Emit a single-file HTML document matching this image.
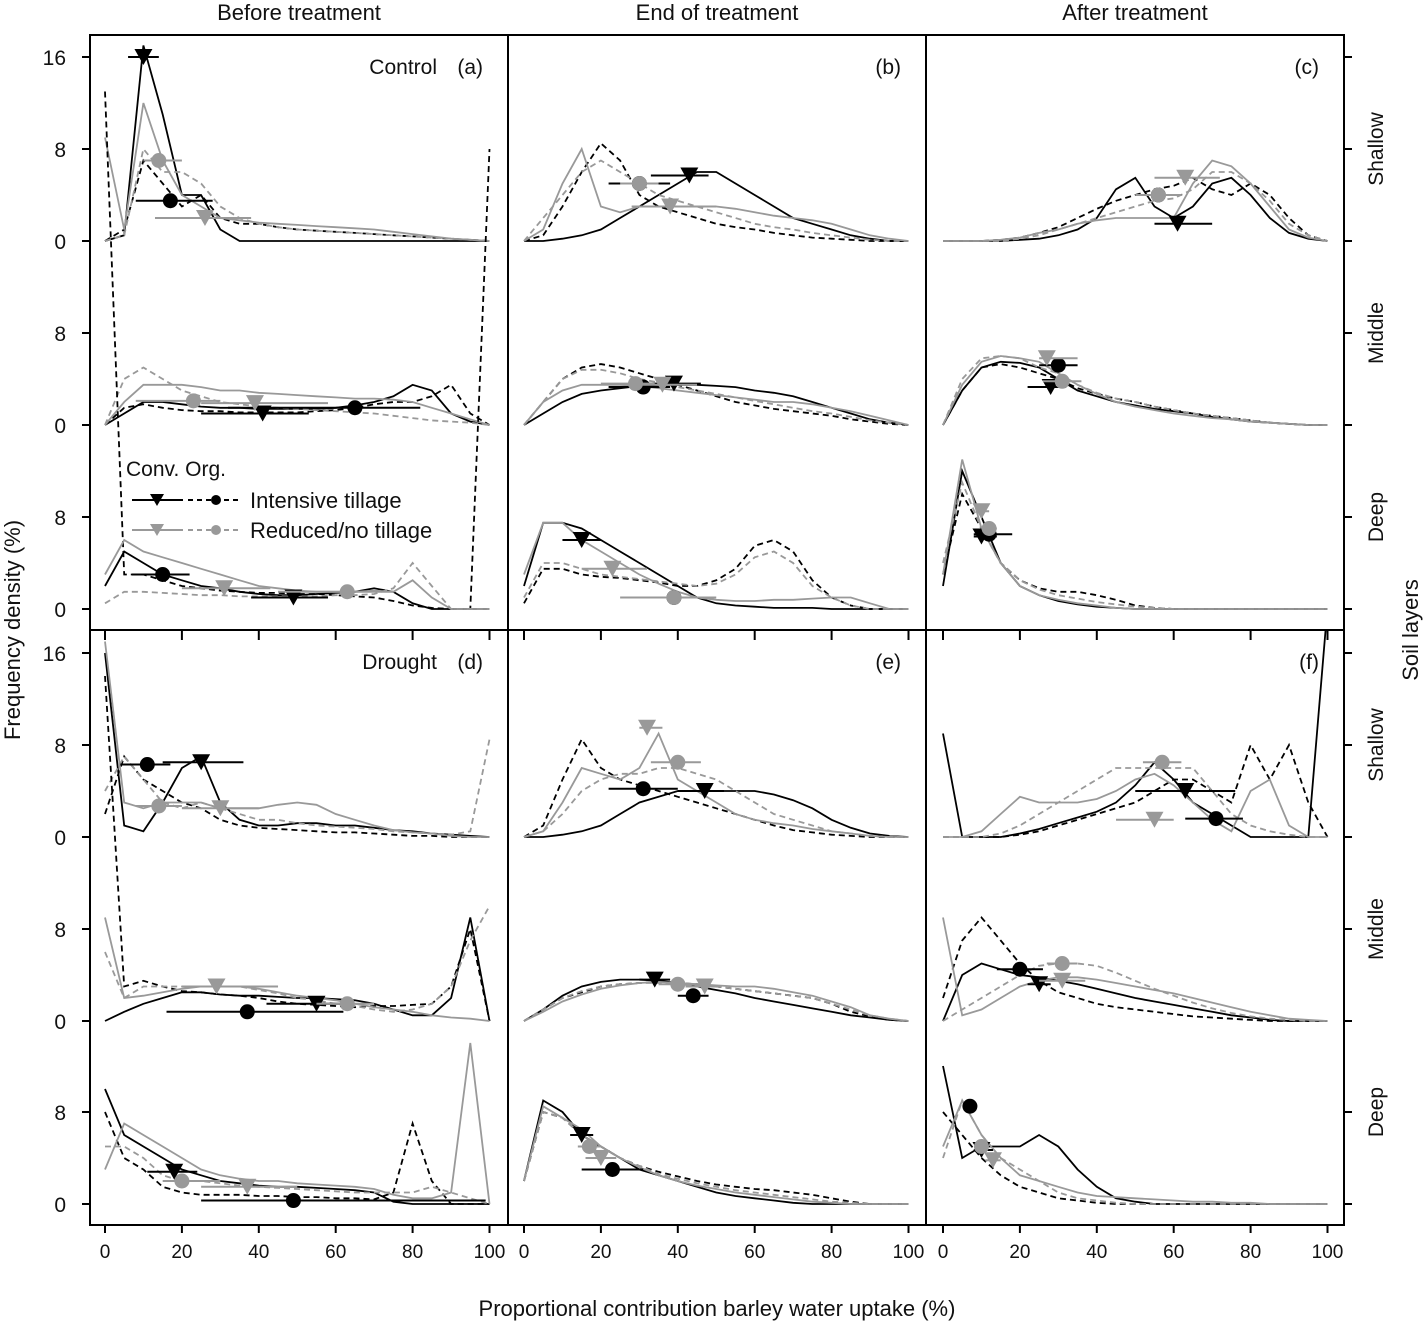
<!DOCTYPE html>
<html><head><meta charset="utf-8"><style>
body{margin:0;background:#fff;}
svg{display:block;font-family:"Liberation Sans",Arial,sans-serif;}
</style></head><body>
<svg id="chart" width="1427" height="1325" viewBox="0 0 1427 1325" xmlns="http://www.w3.org/2000/svg">
<g id="content"></g>
</svg>
<script>
// x grid (%): 0,5,...,100
const xGrid = [0,5,10,15,20,25,30,35,40,45,50,55,60,65,70,75,80,85,90,95,100];
const columnTitles = ["Before treatment","End of treatment","After treatment"];
const panelLabels = ["(a)","(b)","(c)","(d)","(e)","(f)"];
const layerNames = ["Shallow","Middle","Deep"];
const xTickLabels = [0,20,40,60,80,100];
const yTickLabels = [0,8,16];
// order: a-sh,a-mid,a-deep,b-sh,...,f-deep
const blackSolid = [
[0,0.5,17,11,4,4,1,0,0,0,0,0,0,0,0,0,0,0,0,0,0],
[0,1,2,2,1.8,1.6,1.5,1.5,1.4,1.4,1.4,1.4,1.5,1.7,2,2.5,3.5,3,1,0.3,0],
[2,5,4,3,2.5,2,1.8,1.5,1.3,1.2,1.2,1.3,1.4,1.5,1.8,1.5,0.5,0,0,0,0],
[0,0,0.2,0.5,1,2,3,4,5,6,6,5,4,3,2,1.5,1,0.5,0.2,0,0],
[0,1,2,2.7,3,3.2,3.4,3.5,3.5,3.5,3.4,3.3,3,2.8,2.5,2,1.5,1,0.5,0.2,0],
[2,7.5,7.5,7,6,5,4,3,2,1,0.5,0.3,0.2,0.1,0.1,0.1,0,0,0,0,0],
[0,0,0,0,0.1,0.2,0.5,1,2,4.5,5.5,3,2,3,5,5.5,4,2,0.7,0.2,0],
[0,3,5,5.5,5.4,5,4,3,2.5,2,1.7,1.4,1.2,1,0.7,0.5,0.3,0.2,0.1,0,0],
[2,12,8,4,2,1.2,0.7,0.4,0.2,0.1,0,0,0,0,0,0,0,0,0,0,0],
[16,1,0.5,3,6,7,3,1.5,1,1,1.2,1.2,1,1,0.8,0.6,0.5,0.3,0.2,0.1,0],
[0,0.8,1.5,2,2.5,2.5,2.3,2.2,2.2,2.1,2,2,1.9,1.8,1.5,1,0.5,0.5,2,9,0],
[10,6,5,4,3,2.5,2,1.8,1.6,1.5,1.5,1.4,1.3,1.2,1,0.2,0,0,0,0,0],
[0,0,0.2,0.5,1,2,3,3.5,4,4,4,4,4,3.7,3.2,2.5,1.5,0.8,0.3,0.1,0],
[0,1,2.2,3,3.4,3.6,3.6,3.5,3.3,3,2.7,2.4,2,1.7,1.4,1.1,0.8,0.5,0.3,0.1,0],
[2,9,8,6,5,4,3,2.5,2,1.5,1,0.7,0.5,0.3,0.1,0,0,0,0,0,0],
[9,0,0,0,0.3,0.7,1.2,1.7,2.2,3,4.5,6.5,5,3,2,1,0,0,0,0,20],
[0,4,5,4.5,4,3.8,3.5,3.2,2.8,2.4,2,1.7,1.4,1.1,0.8,0.5,0.3,0.1,0,0,0],
[12,4,5,5,5,6,5,3,1.5,0.5,0.2,0,0,0,0,0,0,0,0,0,0]];
const blackDashed = [
[0,1,7,5,3,4,2,1.5,1.5,1.2,1,0.9,0.8,0.7,0.6,0.5,0.4,0.3,0.2,0.1,0],
[0,1.5,1.8,1.5,1.3,1.2,1.2,1.1,1.1,1.1,1.1,1.2,1.3,1.5,1.8,2,2,2.5,3.5,1,0],
[45,3,3,2.5,2,1.8,1.6,1.5,1.4,1.4,1.3,1.3,1.2,1.1,1,0.7,0.3,0.1,0,0,40],
[0,0.5,3,6,8.5,7,4,3,2.5,2,1.5,1.2,1,0.7,0.5,0.3,0.2,0.1,0,0,0],
[0,2,4,5,5.3,5,4.5,4,3.5,3,2.5,2,1.7,1.4,1.2,1,0.8,0.5,0.3,0.1,0],
[0.5,3.5,3.5,3,2.8,2.7,2.5,2.3,2,2,2.5,3.5,5.5,6,5,2.5,1,0.3,0,0,0],
[0,0,0,0.1,0.3,0.7,1.2,2,2.8,3.5,4,4.5,4.8,5.5,4.5,4,5,4,2,0.5,0],
[0,3,5,5.3,5,4.5,4,3.2,2.7,2.3,2,1.6,1.3,1,0.8,0.6,0.4,0.2,0.1,0,0],
[3,10,7,4,2.5,1.8,1.5,1.5,1.2,0.8,0.3,0.1,0,0,0,0,0,0,0,0,0],
[2,7,5,4,3,2.5,1.5,1,0.8,0.7,0.6,0.5,0.4,0.4,0.3,0.2,0.1,0.1,0,0,0],
[30,3,3.5,3,2.6,2.5,2.3,2.2,2,1.7,1.5,1.4,1.3,1.2,1.3,1.3,1.4,1.5,3,8,0],
[8,4,3,1.5,1,0.8,0.8,0.8,0.7,0.7,0.6,0.6,0.5,0.5,0.4,1,7,2,0,0,0],
[0,1,5,8.5,6,5,4.5,4,3.5,3,2.5,2,1.5,1,0.6,0.4,0.2,0.1,0,0,0],
[0,1,2,2.5,3,3.2,3.3,3.4,3.3,3.2,3,2.8,2.6,2.4,2.2,2,1.5,0.8,0.4,0.1,0],
[2,8,7.5,6,5,4,3.3,2.8,2.4,2,1.7,1.5,1.3,1.2,1,0.8,0.5,0.2,0,0,0],
[0,0,0,0,0.2,0.5,1,1.5,2,2.5,3,4,5,5,4,3,8,5,8,3,0],
[2,7,9,7,5,3.5,2.5,2,1.5,1.2,1,0.8,0.6,0.4,0.3,0.2,0.1,0,0,0,0],
[8,6,4,2.5,1.5,1,0.5,0.3,0.1,0,0,0,0,0,0,0,0,0,0,0,0]];
const graySolid = [
[9,1,12,7,4,3,2,1.8,1.6,1.5,1.4,1.3,1.2,1.1,1,0.8,0.6,0.4,0.2,0.1,0],
[0,2,3.5,3.5,3.5,3.3,3,3,2.8,2.7,2.6,2.5,2.4,2.3,2.3,2.2,2,1.5,1,0.5,0],
[3,6,5,4.5,4,3.5,3,2.5,2,1.8,1.6,1.5,1.5,1.5,1.6,1.5,2.5,1,0,0,0],
[0,1,5,8,3,2.5,3,3,3,3,3,2.8,2.5,2.2,2,1.8,1.5,1,0.5,0.2,0],
[0,2,3,3.5,3.5,3.5,3.4,3.2,3,2.8,2.6,2.4,2.2,2,2,1.8,1.5,1.2,0.8,0.4,0],
[3,7.5,7.5,6,5,4,3,2.2,1.5,1,0.8,0.7,0.7,0.8,0.8,0.9,1,1,0.5,0,0],
[0,0,0,0.1,0.3,0.7,1,1.5,1.8,2,2,2,2,5,7,6.5,5,3,1,0.3,0],
[0,3.5,5.5,6,5.8,5.5,4.5,3.5,2.7,2,1.6,1.3,1,0.8,0.6,0.5,0.3,0.2,0.1,0,0],
[3,13,7,4,2,1.2,0.8,0.5,0.3,0.1,0,0,0,0,0,0,0,0,0,0,0],
[17,3,2.5,3,3,3,2.5,2.5,2.5,2.8,3,2.8,2,1.5,1,0.6,0.4,0.3,0.1,0,0],
[9,2,2.2,2.5,2.8,3,3,3,2.8,2.5,2.2,2,1.8,1.5,1.2,1,0.8,0.5,0.3,0.2,0],
[3,7,6,5,4,3,2.5,2.2,2,2,1.8,1.7,1.6,1.5,1.3,0.8,0.5,0.5,1,14,0],
[0,0.5,3,6,5.5,5,6,9,5,4,3,2,1.5,1.2,1,0.7,0.5,0.3,0.1,0,0],
[0,0.8,1.7,2.3,2.8,3.1,3.3,3.4,3.3,3.2,3.1,3,3,2.8,2.5,2.2,1.7,1.2,0.5,0.2,0],
[2,8.5,7.5,6.5,5,4,3.2,2.5,2,1.6,1.3,1,0.8,0.6,0.4,0.2,0.1,0,0,0,0],
[0,0,0.5,2,3.5,3,3,3,3.3,4,5,5.5,4.5,3,1.5,0.5,4,5,1,0,0],
[9,0.5,1,2,3,3.5,3.8,3.8,3.6,3.3,3,2.7,2.4,2,1.6,1.2,0.8,0.5,0.2,0.1,0],
[5,9,6,4,2.5,2,1.5,1,0.7,0.6,0.5,0.4,0.3,0.2,0.2,0.1,0.1,0,0,0,0]];
const grayDashed = [
[0,0.5,8,6,6,5,3,2,1.5,1.2,1,0.9,0.8,0.7,0.6,0.5,0.4,0.3,0.2,0.1,0],
[0,4,5,4,3,2.5,2,1.8,1.6,1.5,1.4,1.3,1.2,1.1,1,0.8,0.6,0.4,0.3,0.2,0],
[0.5,1.5,1.5,1.4,1.3,1.2,1.2,1.1,1.1,1.1,1.1,1.1,1.2,1.2,1.3,1.8,4,2,0,0,0],
[0,2,4,6,7,6,5,4,3.5,3,2.5,2,1.5,1.2,1,0.7,0.5,0.3,0.1,0,0],
[0,2,4,4.8,4.8,4.5,4,3.7,3.3,3,2.7,2.4,2.1,1.8,1.5,1.2,1,0.7,0.4,0.2,0],
[1,4,4,3.5,3,2.8,2.6,2.4,2.2,2,2.2,3,4.5,5,4,2,1,0.3,0,0,0],
[0,0,0,0,0.2,0.5,1,1.5,2,2.5,3,3.5,3.7,4.5,6,6,5,3.5,1.5,0.5,0],
[0,4,5.8,6,5.8,5,4.5,3.5,2.8,2.3,2,1.6,1.3,1,0.8,0.6,0.4,0.2,0.1,0,0],
[4,11,7,4,2.5,1.7,1.2,0.9,0.6,0.4,0.2,0.1,0,0,0,0,0,0,0,0,0],
[4,7,5,3,2.5,3,2.5,2,1.5,1.5,1.2,1,0.9,0.8,0.7,0.5,0.4,0.3,0.2,0.5,8.5],
[6,2,3,3,3,3,3,3,2.7,2.4,2,1.8,1.5,1.3,1,0.8,1,1.5,3,7,10],
[5,5,4,2.5,2,2,1.8,1.6,1.5,1.4,1.3,1.2,1.1,1,1,1,1,1.5,1,0.5,0],
[0,0.5,2,4,5,5.5,5.5,6,6,5.5,5,4,3,2,1.5,1,0.5,0.3,0.1,0,0],
[0,1,2,2.6,3,3.2,3.3,3.3,3.2,3.1,3,2.8,2.6,2.4,2.2,2,1.5,1,0.5,0.2,0],
[2,8,7.5,6,5,4,3.3,2.6,2.2,1.8,1.5,1.2,1,0.8,0.6,0.4,0.2,0.1,0,0,0],
[0,0,0,0.3,1,2,3,4,5,6,6,6,6,6,4,2,1,0.5,0.2,0,0],
[0,1,2,3,4,4.8,5,5,4.8,4.2,3.5,2.8,2.2,1.6,1.1,0.7,0.4,0.2,0.1,0,0],
[4,9,6,4,3,2,1,0.5,0.3,0.1,0,0,0,0,0,0,0,0,0,0,0]];
// markers [mean, y, lo, hi]: black triangle, black circle, gray triangle, gray circle
const markBlackTri = [[10,16,6,14],[41,1,25,53],[49,1,38,58],[43,5.7,33,48],[39,3.6,32,46],[15,6,10,20],[61,1.5,55,70],[28,3.3,22,32],[10,6.3,8,14],[25,6.5,15,36],[55,1.5,42,63],[18,2.8,11,24],[47,4,40,52],[34,3.6,30,38],[15,6,12,18],[63,4,50,76],[25,3.2,22,28],[10,4.7,8,13]];
const markBlackCirc = [[17,3.5,8,28],[65,1.5,32,82],[15,3,7,22],[30,5,22,38],[31,3.3,22,38],[39,1,30,48],[56,4,50,62],[30,5.2,25,35],[12,6.5,8,18],[11,6.3,4,17],[37,0.8,16,62],[49,0.3,25,99],[31,4.2,22,40],[44,2.2,40,48],[23,3,15,31],[71,1.6,63,78],[20,4.5,14,26],[7,8.5,6,8]];
const markGrayTri = [[26,2,13,38],[39,1.9,25,58],[31,1.8,20,43],[38,3,28,50],[36,3.5,28,45],[23,3.5,15,32],[63,5.5,55,72],[27,5.8,25,35],[10,8.5,9,12],[30,2.5,20,40],[29,3,20,45],[37,1.5,25,50],[32,9.5,30,36],[47,3,42,50],[20,4,16,24],[55,1.5,45,60],[31,3.5,25,37],[13,3.8,11,15]];
const markGrayCirc = [[14,7,10,20],[23,2.1,8,30],[63,1.5,45,75],[30,5,25,35],[29,3.6,20,34],[39,1,25,50],[56,4,50,62],[31,3.8,26,36],[12,7,10,14],[14,2.7,8,20],[63,1.5,55,70],[20,2,15,30],[40,6.5,33,46],[40,3.2,35,45],[17,5,14,20],[57,6.5,52,62],[31,5,27,35],[10,5,9,11]];

const NS="http://www.w3.org/2000/svg";
const root=document.getElementById('content');
const colLeft=[90,508,926], colRight=[508,926,1344];
const colX0=[105,524,943], xSpan=384.5;
const rowTop=[35,630], rowBot=[630,1225];
const baseY=[[241,425,609],[837,1021,1204]];
const UNIT=11.5;
function mk(tag,attrs,parent){const e=document.createElementNS(NS,tag);for(const k in attrs)e.setAttribute(k,attrs[k]);(parent||root).appendChild(e);return e;}
function xs(c,v){return colX0[c]+v/100*xSpan;}
function ys(r,l,v){return baseY[r][l]-v*UNIT;}
function txt(x,y,s,size,anchor,rot,name){const t=mk('text',{x:x,y:y,'font-size':size,'text-anchor':anchor||'middle',fill:'#111'});if(rot)t.setAttribute('transform','rotate(-90 '+x+' '+y+')');t.textContent=s;return t;}

const defs=mk('defs',{});
for(let r=0;r<2;r++)for(let c=0;c<3;c++){const cp=mk('clipPath',{id:'cp'+r+c},defs);mk('rect',{x:colLeft[c],y:rowTop[r],width:colRight[c]-colLeft[c],height:rowBot[r]-rowTop[r]},cp);}

const styles=[{d:blackSolid,col:'#000',dash:null,n:'conv-intensive-line'},{d:blackDashed,col:'#000',dash:'6,4',n:'org-intensive-line'},{d:graySolid,col:'#999',dash:null,n:'conv-reduced-line'},{d:grayDashed,col:'#999',dash:'6,4',n:'org-reduced-line'}];
const marks=[{d:markBlackTri,col:'#000',tri:true,n:'conv-intensive-mean'},{d:markBlackCirc,col:'#000',tri:false,n:'org-intensive-mean'},{d:markGrayTri,col:'#999',tri:true,n:'conv-reduced-mean'},{d:markGrayCirc,col:'#999',tri:false,n:'org-reduced-mean'}];

for(let r=0;r<2;r++)for(let c=0;c<3;c++){
  const p=r*3+c;
  const g=mk('g',{'clip-path':'url(#cp'+r+c+')'});
  
  
  for(let l=0;l<3;l++){
    const idx=p*3+l;
    styles.forEach(s=>{
      const vals=s.d[idx];
      const pts=vals.map((v,i)=>xs(c,xGrid[i]).toFixed(1)+','+ys(r,l,v).toFixed(1)).join(' ');
      const pl=mk('polyline',{points:pts,fill:'none',stroke:s.col,'stroke-width':1.8},g);
      if(s.dash)pl.setAttribute('stroke-dasharray',s.dash);
      
      
    });
    marks.forEach(m=>{
      const [mean,yv,lo,hi]=m.d[idx];
      const y=ys(r,l,yv);
      const b=mk('line',{x1:xs(c,lo),x2:xs(c,hi),y1:y,y2:y,stroke:m.col,'stroke-width':2},g);
      
      
      const x=xs(c,mean);
      let sh;
      if(m.tri) sh=mk('polygon',{points:(x-9)+','+(y-8)+' '+(x+9)+','+(y-8)+' '+x+','+(y+8),fill:m.col},g);
      else sh=mk('circle',{cx:x,cy:y,r:7.5,fill:m.col},g);
      
      
    });
  }
}
// frame
const fr=mk('g',{stroke:'#000','stroke-width':2,fill:'none'});


mk('rect',{x:90,y:35,width:1254,height:1190},fr);
mk('line',{x1:508,y1:35,x2:508,y2:1225},fr);
mk('line',{x1:926,y1:35,x2:926,y2:1225},fr);
mk('line',{x1:90,y1:630,x2:1344,y2:630},fr);
// y ticks
for(let r=0;r<2;r++)for(let l=0;l<3;l++){
  const tv= l===0?[0,8,16]:[0,8];
  tv.forEach(v=>{const y=ys(r,l,v);mk('line',{x1:82,x2:90,y1:y,y2:y},fr);mk('line',{x1:1344,x2:1352,y1:y,y2:y},fr);
    txt(66,y+8,String(yTickLabels[yTickLabels.indexOf(v)]),21,'end',false,'y-tick-label');});
}
// x ticks
for(let c=0;c<3;c++){xTickLabels.forEach(v=>{const x=xs(c,v);mk('line',{x1:x,x2:x,y1:1225,y2:1233},fr);mk('line',{x1:x,x2:x,y1:630,y2:640},fr);txt(x,1258,String(v),19,'middle',false,'x-tick-label');});}
// titles
columnTitles.forEach((t,c)=>txt((colLeft[c]+colRight[c])/2,20,t,22,'middle',false,'column-title'));
for(let r=0;r<2;r++)for(let c=0;c<3;c++){txt(colRight[c]-25,74+r*595,panelLabels[r*3+c],21,'end',false,'panel-label');}
txt(437,74,'Control',21,'end',false,'control-label');
txt(437,669,'Drought',21,'end',false,'drought-label');
for(let r=0;r<2;r++)layerNames.forEach((n,l)=>txt(1383,baseY[r][l]-92,n,21,'middle',true,'layer-label'));
txt(1418,630,'Soil layers',22,'middle',true,'right-axis-title');
txt(20,630,'Frequency density (%)',22,'middle',true,'y-axis-title');
txt(717,1316,'Proportional contribution barley water uptake (%)',22,'middle',false,'x-axis-title');
// legend
const lg=mk('g',{});


const hd=mk('text',{x:126,y:476,'font-size':21,fill:'#111'},lg);hd.textContent='Conv. Org.';


[[500,'#000','Intensive tillage','legend-entry-intensive'],[530,'#999','Reduced/no tillage','legend-entry-reduced']].forEach(([y,col,lab,nm])=>{
  const e=mk('g',{},lg);
  
  
  mk('line',{x1:132,x2:183,y1:y,y2:y,stroke:col,'stroke-width':2},e);
  mk('polygon',{points:'150,'+(y-6)+' 164,'+(y-6)+' 157,'+(y+6),fill:col},e);
  mk('line',{x1:188,x2:240,y1:y,y2:y,stroke:col,'stroke-width':2,'stroke-dasharray':'5,4'},e);
  mk('circle',{cx:216,cy:y,r:5,fill:col},e);
  const t=mk('text',{x:250,y:y+8,'font-size':22,fill:'#111'},e);t.textContent=lab;
});
</script>
</body></html>
